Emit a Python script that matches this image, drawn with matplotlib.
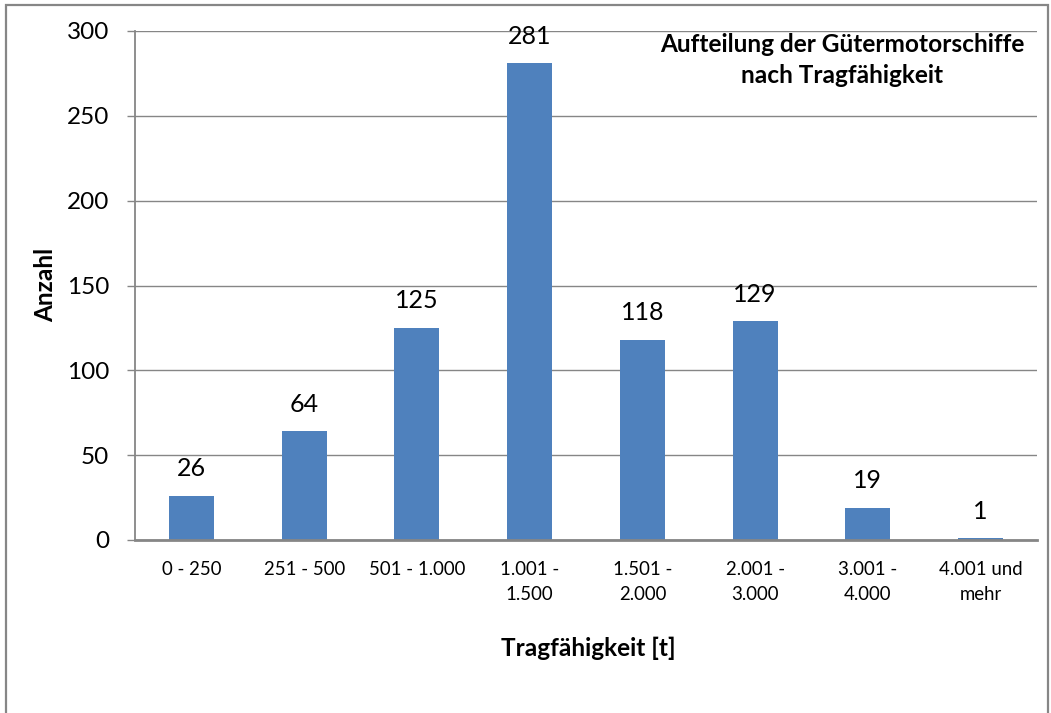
import matplotlib
matplotlib.use("Agg")
import matplotlib.pyplot as plt
from matplotlib.patches import Rectangle

plt.rcParams['font.family'] = ['Lato', 'DejaVu Sans']

categories = ["0 - 250", "251 - 500", "501 - 1.000", "1.001 -\n1.500", "1.501 -\n2.000",
              "2.001 -\n3.000", "3.001 -\n4.000", "4.001 und\nmehr"]
values = [26, 64, 125, 281, 118, 129, 19, 1]
yticks = [0, 50, 100, 150, 200, 250, 300]
title_lines = ["Aufteilung der Gütermotorschiffe", "nach Tragfähigkeit"]
xlabel = "Tragfähigkeit [t]"
ylabel = "Anzahl"

W, H = 1051, 713
fig = plt.figure(figsize=(W / 100, H / 100), dpi=100)
fig.patch.set_facecolor('white')

grey = '#868686'
# outer chart frame
fig.patches.append(Rectangle((6 / W, -0.05), 1042 / W, 1.05 - 5 / H, transform=fig.transFigure,
                             fill=False, edgecolor=grey, linewidth=1.6))

ax = fig.add_axes([135 / W, 1 - 540 / H, 902 / W, 509 / H])
x = list(range(len(categories)))
ax.bar(x, values, width=0.4, color='#4F81BD', zorder=3)
ax.set_xlim(-0.5, len(categories) - 0.5)
ax.set_ylim(0, 300)
ax.set_yticks(yticks)
ax.set_yticklabels([str(v) for v in yticks], fontsize=17.5)
ax.set_xticks(x)
ax.set_xticklabels(categories, fontsize=13.4, linespacing=1.6)
ax.tick_params(axis='x', length=0, pad=15)
ax.tick_params(axis='y', length=5.5, width=1, color=grey, pad=13)
ax.yaxis.grid(True, color=grey, linewidth=1.0, zorder=0)
for s in ['top', 'right']:
    ax.spines[s].set_visible(False)
ax.spines['left'].set_color(grey)
ax.spines['left'].set_linewidth(1.3)
ax.spines['bottom'].set_color(grey)
ax.spines['bottom'].set_linewidth(2.0)
ax.spines['bottom'].set_zorder(4)

for xi, v in zip(x, values):
    ax.annotate(str(v), (xi, v), xytext=(0, 14), textcoords='offset points',
                ha='center', va='baseline', fontsize=18)

fig.text(842 / W, 1 - 52 / H, title_lines[0], ha='center', va='baseline',
         fontsize=17.6, fontweight='bold')
fig.text(842 / W, 1 - 83 / H, title_lines[1], ha='center', va='baseline',
         fontsize=17.6, fontweight='bold')
fig.text(588 / W, 1 - 656 / H, xlabel, ha='center', va='baseline',
         fontsize=17.6, fontweight='bold')
fig.text(46 / W, 1 - 285 / H, ylabel, ha='center', va='center', rotation=90,
         fontsize=17.6, fontweight='bold')

fig.savefig('out.png', dpi=100, facecolor='white')
